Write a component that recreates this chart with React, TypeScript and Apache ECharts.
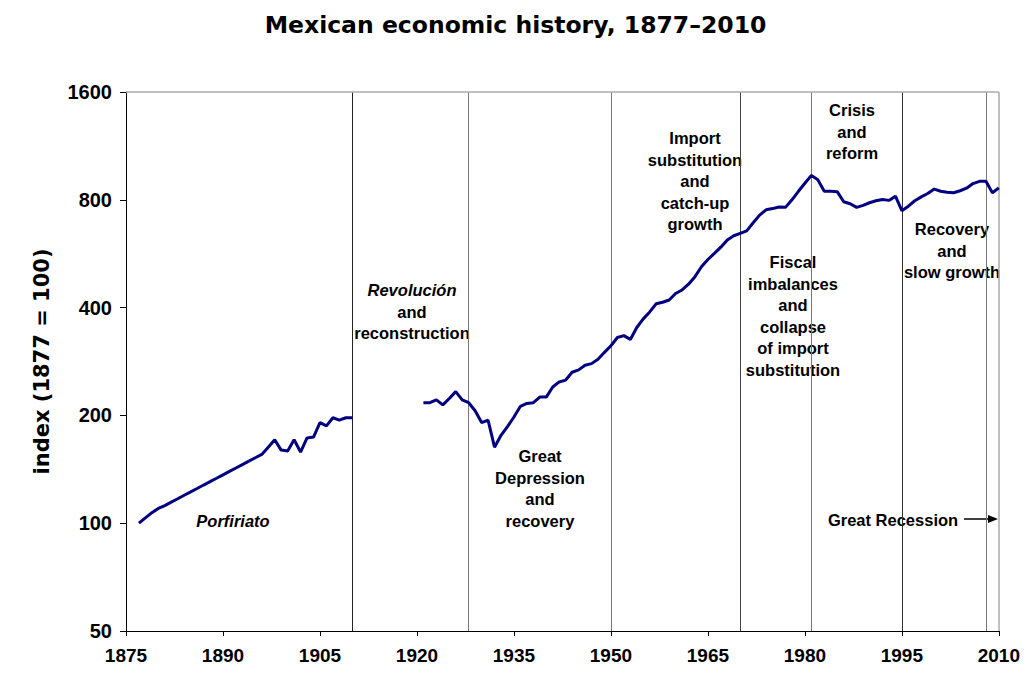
import React, { useEffect, useRef } from "react";
import * as echarts from "echarts";

const porfiriatoStart = 1877;
const porfiriatoValues = [
  100, 103.5, 107, 110, 112, 114.5, 117, 119.7, 122.3, 125, 127.8, 130.6, 133.5, 136.5,
  139.5, 142.6, 145.8, 149, 152.3, 155.6, 163, 171, 160, 159, 171, 158, 173, 174, 191, 187,
  197, 194, 197, 197,
];
const laterStart = 1921;
const laterValues = [
  217, 217, 221, 214, 223, 233, 221, 217, 206, 191, 194, 163, 176, 186, 198, 212, 216, 217,
  225, 225, 240, 248, 251, 264, 268, 276, 279, 287, 300, 313, 330, 334, 326, 352, 372, 389,
  410, 414, 420, 438, 448, 465, 488, 520, 545, 567, 590, 618, 635, 645, 655, 690, 725, 750,
  756, 764, 762, 800, 845, 890, 936, 910, 845, 845, 843, 790, 780, 762, 772, 785, 795, 802,
  797, 819, 746, 768, 795, 815, 833, 857, 845, 840, 837, 848, 862, 888, 901, 901, 837, 864,
];
const yTickValues = [50, 100, 200, 400, 800, 1600];
const periodBreaks = [1910, 1928, 1950, 1970, 1981, 1995, 2008];
const periodBreakColors = ["#222", "#777", "#777", "#444", "#777", "#333", "#777"];

const BASE = 50;
const toLog = (v: number) => Math.log2(v / BASE);

const FONT = "'Liberation Sans', Arial, sans-serif";
const WIDE = "'DejaVu Sans', Verdana, sans-serif";
const OFF = 8; // body margin

export default function App() {
  const ref = useRef<HTMLDivElement>(null);
  useEffect(() => {
    if (!ref.current) return;
    const chart = echarts.init(ref.current, null, { renderer: "svg" });

    const data: any[] = [];
    porfiriatoValues.forEach((v, i) => data.push([porfiriatoStart + i, toLog(v)]));
    for (let y = porfiriatoStart + porfiriatoValues.length; y < laterStart; y++) data.push([y, "-"]);
    laterValues.forEach((v, i) => data.push([laterStart + i, toLog(v)]));

    const txt = (x: number, y: number, lines: string[], italicFirst = 0) =>
      lines.map((t, i) => ({
        type: "text",
        x: x - OFF,
        y: y - OFF + i * 21.5,
        style: {
          text: t,
          fill: "#000",
          font: `${i < italicFirst ? "italic " : ""}bold 16.5px ${FONT}`,
          textAlign: "center",
          textVerticalAlign: "middle",
        },
      }));

    chart.setOption({
      animation: false,
      title: {
        text: "Mexican economic history, 1877\u20132010",
        left: "center",
        top: 0,
        textStyle: { fontFamily: WIDE, fontWeight: "bold", fontSize: 23.5, color: "#000" },
      },
      grid: { left: 118, right: 19, top: 84, bottom: 36 },
      xAxis: {
        type: "value",
        min: 1875,
        max: 2010,
        interval: 15,
        axisLine: { show: true, lineStyle: { color: "#000", width: 1 } },
        axisTick: { show: true, length: 5, lineStyle: { color: "#000" } },
        axisLabel: {
          color: "#000",
          fontFamily: FONT,
          fontWeight: "bold",
          fontSize: 19,
          margin: 15,
          formatter: (v: number) => String(v),
        },
        splitLine: { show: false },
      },
      yAxis: {
        type: "value",
        min: 0,
        max: 5,
        interval: 1,
        name: "index (1877 = 100)",
        nameLocation: "middle",
        nameGap: 74,
        nameTextStyle: { fontFamily: WIDE, fontWeight: "bold", fontSize: 21, color: "#000" },
        axisLine: { show: true, lineStyle: { color: "#000", width: 1 } },
        axisTick: { show: true, length: 6, lineStyle: { color: "#000" } },
        axisLabel: {
          color: "#000",
          fontFamily: FONT,
          fontWeight: "bold",
          fontSize: 20,
          margin: 14,
          formatter: (v: number) => {
            const idx = Math.round(v);
            return String(yTickValues[idx] ?? Math.round(BASE * Math.pow(2, v)));
          },
        },
        splitLine: { show: false },
      },
      series: [
        {
          type: "line",
          data,
          showSymbol: false,
          connectNulls: false,
          lineStyle: { color: "#000080", width: 3 },
          itemStyle: { color: "#000080" },
          z: 5,
          markLine: {
            silent: true,
            symbol: "none",
            label: { show: false },
            data: [
              ...periodBreaks.map((yr, i) => ({
                xAxis: yr,
                lineStyle: { color: periodBreakColors[i], width: 1, type: "solid" },
              })),
              { xAxis: 2010, lineStyle: { color: "#aaa", width: 1.5, type: "solid" } },
              { yAxis: 5, lineStyle: { color: "#aaa", width: 1.5, type: "solid" } },
            ],
          },
        },
      ],
      graphic: [
        ...txt(233, 521, ["Porfiriato"], 1),
        ...txt(412, 290, ["Revolución", "and", "reconstruction"], 1),
        ...txt(540, 456, ["Great", "Depression", "and", "recovery"]),
        ...txt(695, 138, ["Import", "substitution", "and", "catch-up", "growth"]),
        ...txt(793, 262, ["Fiscal", "imbalances", "and", "collapse", "of import", "substitution"]),
        ...txt(852, 110, ["Crisis", "and", "reform"]),
        ...txt(952, 229, ["Recovery", "and", "slow growth"]),
        ...txt(893, 520, ["Great Recession"]),
        {
          type: "line",
          shape: { x1: 964 - OFF, y1: 519 - OFF, x2: 990 - OFF, y2: 519 - OFF },
          style: { stroke: "#000", lineWidth: 1.5 },
        },
        {
          type: "polygon",
          shape: {
            points: [
              [998 - OFF, 519 - OFF],
              [988 - OFF, 515 - OFF],
              [988 - OFF, 523 - OFF],
            ],
          },
          style: { fill: "#000" },
        },
      ],
    });
    return () => chart.dispose();
  }, []);
  return <div ref={ref} style={{ width: 1015, height: 659 }} />;
}
